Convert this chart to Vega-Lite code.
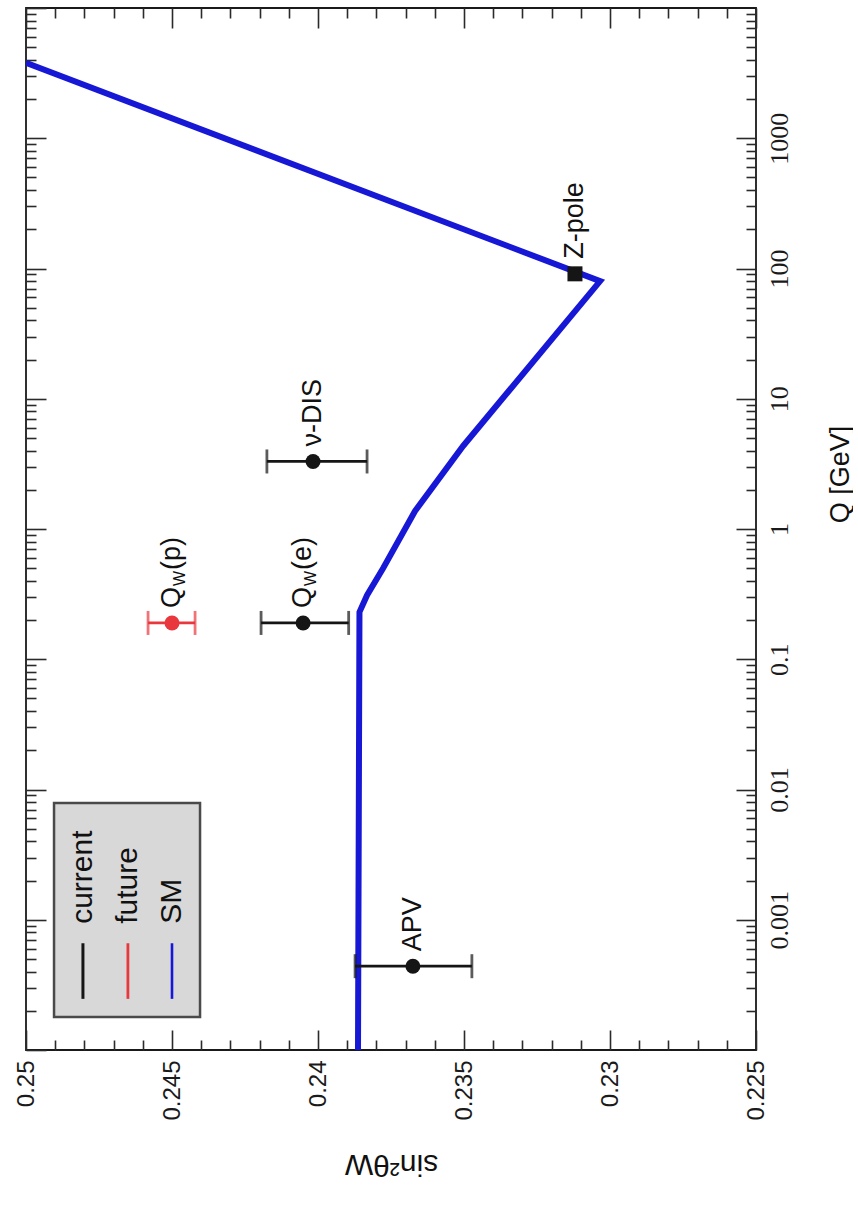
{
  "$schema": "https://vega.github.io/schema/vega-lite/v6.json",
  "width": 730,
  "height": 1042,
  "padding": {"left": 14, "top": 7, "right": 0, "bottom": 14},
  "background": "white",
  "config": {
    "view": {"stroke": "#1a1a1a", "strokeWidth": 1.8},
    "font": "Liberation Sans",
    "axis": {"domain": false, "grid": false, "tickColor": "#2a2a2a", "tickWidth": 1.6, "labelColor": "#1a1a1a", "titleColor": "#111111", "titleFontWeight": "normal"}
  },
  "datasets": {
    "sm": [
      {"Q": 0.0001, "s": 0.23863},
      {"Q": 0.23, "s": 0.23858},
      {"Q": 0.31, "s": 0.23832},
      {"Q": 0.5, "s": 0.23777},
      {"Q": 1.37, "s": 0.23668},
      {"Q": 4.34, "s": 0.23503},
      {"Q": 80, "s": 0.23034},
      {"Q": 3790, "s": 0.25}
    ],
    "pts": [
      {"name": "APV", "main": "APV", "sub": "", "rest": "", "Q": 0.00044, "s": 0.23675, "lo": 0.23473, "hi": 0.23873, "series": "current", "kind": "circle"},
      {"name": "Q_W(e)", "main": "Q", "sub": "W", "rest": "(e)", "Q": 0.19, "s": 0.24051, "lo": 0.23895, "hi": 0.24195, "series": "current", "kind": "circle"},
      {"name": "ν-DIS", "main": "ν-DIS", "sub": "", "rest": "", "Q": 3.3, "s": 0.24017, "lo": 0.23832, "hi": 0.24175, "series": "current", "kind": "circle"},
      {"name": "Q_W(p)", "main": "Q", "sub": "W", "rest": "(p)", "Q": 0.19, "s": 0.2450, "lo": 0.24421, "hi": 0.24582, "series": "future", "kind": "circle"},
      {"name": "Z-pole", "main": "Z-pole", "sub": "", "rest": "", "Q": 91, "s": 0.2312, "series": "current", "kind": "square"}
    ],
    "legendbox": [
      {"s1": 0.24904, "s2": 0.24404, "Q1": 0.000179, "Q2": 0.00787}
    ],
    "legend": [
      {"series": "current", "s": 0.24805, "Q1": 0.000247, "Q2": 0.00066, "Qt": 0.00093},
      {"series": "future", "s": 0.24651, "Q1": 0.000247, "Q2": 0.00066, "Qt": 0.00093},
      {"series": "SM", "s": 0.245, "Q1": 0.000247, "Q2": 0.00066, "Qt": 0.00093}
    ]
  },
  "layer": [
    {
      "data": {"name": "sm"},
      "mark": {"type": "line", "color": "#1717d6", "strokeWidth": 6, "clip": true},
      "encoding": {
        "x": {"field": "s", "type": "quantitative",
          "scale": {"domain": [0.225, 0.25], "reverse": true, "nice": false, "zero": false},
          "axis": {"orient": "bottom", "offset": -20, "tickSize": 20, "values": [0.225, 0.23, 0.235, 0.24, 0.245, 0.25], "format": "~g", "labelAngle": 270, "labelFont": "Liberation Sans", "labelFontSize": 24, "labelPadding": 10, "title": "sin²θW", "titleAngle": 180, "titleBaseline": "bottom", "titleFont": "Liberation Sans", "titleFontSize": 30, "titlePadding": 28}},
        "y": {"field": "Q", "type": "quantitative",
          "scale": {"type": "log", "domain": [0.0001, 10000], "nice": false},
          "axis": {"orient": "right", "offset": -20, "tickSize": 20, "values": [0.001, 0.01, 0.1, 1, 10, 100, 1000], "format": "~g", "labelAngle": 270, "labelFont": "Liberation Serif", "labelFontSize": 26, "labelPadding": 10, "title": "Q [GeV]", "titleAngle": 270, "titleY": 466, "titleFont": "Liberation Sans", "titleFontSize": 27, "titlePadding": 62}},
        "order": {"field": "Q", "type": "quantitative"}
      }
    },
    {
      "data": {"name": "pts"},
      "transform": [{"filter": "isValid(datum.lo)"}],
      "mark": {"type": "rule", "strokeWidth": 2.8},
      "encoding": {
        "x": {"field": "lo", "type": "quantitative",
          "axis": {"orient": "bottom", "offset": -10, "tickSize": 10, "labels": false, "title": null, "values": [0.226, 0.227, 0.228, 0.229, 0.231, 0.232, 0.233, 0.234, 0.236, 0.237, 0.238, 0.239, 0.241, 0.242, 0.243, 0.244, 0.246, 0.247, 0.248, 0.249]}},
        "x2": {"field": "hi"},
        "y": {"field": "Q", "type": "quantitative",
          "axis": {"orient": "right", "offset": -10, "tickSize": 10, "labels": false, "title": null, "values": [0.0002, 0.0003, 0.0004, 0.0005, 0.0006, 0.0007, 0.0008, 0.0009, 0.002, 0.003, 0.004, 0.005, 0.006, 0.007, 0.008, 0.009, 0.02, 0.03, 0.04, 0.05, 0.06, 0.07, 0.08, 0.09, 0.2, 0.3, 0.4, 0.5, 0.6, 0.7, 0.8, 0.9, 2, 3, 4, 5, 6, 7, 8, 9, 20, 30, 40, 50, 60, 70, 80, 90, 200, 300, 400, 500, 600, 700, 800, 900, 2000, 3000, 4000, 5000, 6000, 7000, 8000, 9000]}},
        "color": {"field": "series", "type": "nominal", "scale": {"domain": ["current", "future", "SM"], "range": ["#151515", "#e8383d", "#1717d6"]}, "legend": null}
      }
    },
    {
      "data": {"name": "pts"},
      "transform": [{"filter": "isValid(datum.lo)"}, {"fold": ["lo", "hi"], "as": ["end", "edge"]}],
      "mark": {"type": "tick", "orient": "vertical", "size": 24, "thickness": 2.8},
      "encoding": {
        "x": {"field": "edge", "type": "quantitative",
          "axis": {"orient": "top", "offset": -20, "tickSize": 20, "labels": false, "title": null, "values": [0.225, 0.23, 0.235, 0.24, 0.245, 0.25]}},
        "y": {"field": "Q", "type": "quantitative",
          "axis": {"orient": "left", "offset": -20, "tickSize": 20, "labels": false, "title": null, "values": [0.0001, 0.001, 0.01, 0.1, 1, 10, 100, 1000, 10000]}},
        "color": {"field": "series", "type": "nominal", "legend": null}
      }
    },
    {
      "data": {"name": "pts"},
      "mark": {"type": "point", "filled": true, "opacity": 1, "size": 225},
      "encoding": {
        "x": {"field": "s", "type": "quantitative",
          "axis": {"orient": "top", "offset": -10, "tickSize": 10, "labels": false, "title": null, "values": [0.226, 0.227, 0.228, 0.229, 0.231, 0.232, 0.233, 0.234, 0.236, 0.237, 0.238, 0.239, 0.241, 0.242, 0.243, 0.244, 0.246, 0.247, 0.248, 0.249]}},
        "y": {"field": "Q", "type": "quantitative",
          "axis": {"orient": "left", "offset": -10, "tickSize": 10, "labels": false, "title": null, "values": [0.0002, 0.0003, 0.0004, 0.0005, 0.0006, 0.0007, 0.0008, 0.0009, 0.002, 0.003, 0.004, 0.005, 0.006, 0.007, 0.008, 0.009, 0.02, 0.03, 0.04, 0.05, 0.06, 0.07, 0.08, 0.09, 0.2, 0.3, 0.4, 0.5, 0.6, 0.7, 0.8, 0.9, 2, 3, 4, 5, 6, 7, 8, 9, 20, 30, 40, 50, 60, 70, 80, 90, 200, 300, 400, 500, 600, 700, 800, 900, 2000, 3000, 4000, 5000, 6000, 7000, 8000, 9000]}},
        "color": {"field": "series", "type": "nominal", "legend": null},
        "shape": {"field": "kind", "type": "nominal", "scale": {"domain": ["circle", "square"], "range": ["circle", "square"]}, "legend": null}
      }
    },
    {
      "data": {"name": "pts"},
      "mark": {"type": "text", "angle": 270, "align": "left", "baseline": "middle", "dx": 15, "fontSize": 27, "font": "Liberation Sans", "color": "#111111"},
      "encoding": {
        "x": {"field": "s", "type": "quantitative", "axis": null},
        "y": {"field": "Q", "type": "quantitative", "axis": null},
        "text": {"field": "main"}
      }
    },
    {
      "data": {"name": "pts"},
      "transform": [{"filter": "datum.sub != ''"}],
      "mark": {"type": "text", "angle": 270, "align": "left", "baseline": "middle", "dx": 37, "dy": 8, "fontSize": 16, "font": "Liberation Sans", "color": "#111111"},
      "encoding": {
        "x": {"field": "s", "type": "quantitative", "axis": null},
        "y": {"field": "Q", "type": "quantitative", "axis": null},
        "text": {"field": "sub"}
      }
    },
    {
      "data": {"name": "pts"},
      "transform": [{"filter": "datum.rest != ''"}],
      "mark": {"type": "text", "angle": 270, "align": "left", "baseline": "middle", "dx": 53, "fontSize": 27, "font": "Liberation Sans", "color": "#111111"},
      "encoding": {
        "x": {"field": "s", "type": "quantitative", "axis": null},
        "y": {"field": "Q", "type": "quantitative", "axis": null},
        "text": {"field": "rest"}
      }
    },
    {
      "data": {"name": "legendbox"},
      "mark": {"type": "rect", "fill": "#d8d8d8", "stroke": "#4a4a4a", "strokeWidth": 2.5},
      "encoding": {
        "x": {"field": "s1", "type": "quantitative", "axis": null},
        "x2": {"field": "s2"},
        "y": {"field": "Q1", "type": "quantitative", "axis": null},
        "y2": {"field": "Q2"}
      }
    },
    {
      "data": {"name": "legend"},
      "mark": {"type": "rule"},
      "encoding": {
        "x": {"field": "s", "type": "quantitative", "axis": null},
        "y": {"field": "Q1", "type": "quantitative", "axis": null},
        "y2": {"field": "Q2"},
        "color": {"field": "series", "type": "nominal", "legend": null},
        "strokeWidth": {"field": "series", "type": "nominal", "scale": {"domain": ["current", "future", "SM"], "range": [3, 2.6, 6.5]}, "legend": null}
      }
    },
    {
      "data": {"name": "legend"},
      "mark": {"type": "text", "angle": 270, "align": "left", "baseline": "middle", "fontSize": 30, "font": "Liberation Sans", "color": "#111111"},
      "encoding": {
        "x": {"field": "s", "type": "quantitative", "axis": null},
        "y": {"field": "Qt", "type": "quantitative", "axis": null},
        "text": {"field": "series"}
      }
    }
  ],
  "resolve": {"axis": {"x": "independent", "y": "independent"}}
}
